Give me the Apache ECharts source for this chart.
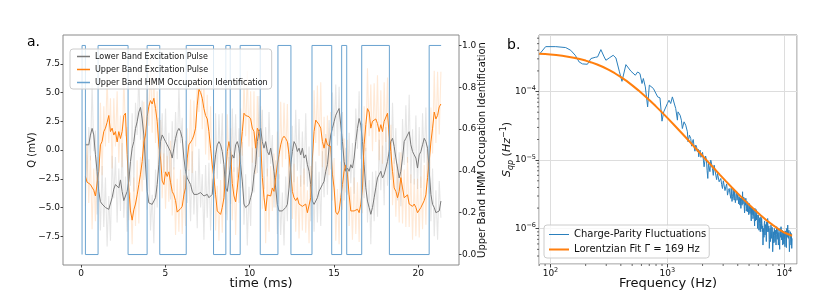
<!DOCTYPE html>
<html><head><meta charset="utf-8">
<script src="https://cdn.jsdelivr.net/npm/echarts@6/dist/echarts.min.js"></script>
<style>html,body{margin:0;padding:0;background:#fff}#c{width:830px;height:298px}</style>
</head><body><div id="c"></div>
<script>
// ---------- Panel a data (sampling grid: t = qTimeStart + i*qTimeStep, ms) ----------
const qTimeStart = 0.26, qTimeStep = 0.099;
const lowerBandSmooth = [
0.45,0.3,0.45,1.3,1.88,1.31,-0.42,-1.85,-3.6,-4.5,
-4.7,-4.87,-5.0,-5.16,-5.16,-5.0,-4.15,-3.4,-3.0,-3.0,
-3.3,-2.6,-3.6,-4.4,-4.3,-3.6,-2.7,-1.0,0.16,0.73,
1.88,2.46,3.3,3.7,2.7,1.3,-1.3,-3.6,-4.6,-4.73,
-4.73,-4.73,-4.15,-3.0,-1.28,0.73,1.31,1.02,0.73,0.45,
0.16,-0.13,-0.7,0.16,1.02,1.6,1.88,1.6,1.02,-0.7,
-1.85,-2.43,-2.72,-3.0,-3.58,-3.86,-3.86,-3.86,-3.86,-3.7,
-3.58,-4.0,-4.15,-3.86,-4.15,-4.3,-3.86,-1.85,-0.42,0.45,
0.73,0.45,-0.13,-1.28,-3.3,-3.6,-2.43,-1.28,-0.42,-0.7,
0.45,0.73,0.16,-1.28,-2.7,-4.7,-5.0,-5.0,-4.73,-4.15,
-3.58,-2.14,-1.28,0.73,1.6,1.88,0.73,0.16,0.73,-0.13,
-0.42,0.16,-0.7,-1.85,-3.3,-4.73,-5.3,-5.45,-5.3,-5.3,
-5.0,-4.73,-3.3,-1.28,-0.13,0.73,0.45,-0.13,0.16,-0.42,
0.16,-0.7,-0.42,-1.28,-1.85,-3.0,-4.44,-4.73,-4.44,-4.15,
-3.58,-3.3,-3.0,-2.72,-1.85,-1.28,0.2,1.31,1.88,2.46,
3.03,3.32,3.61,2.17,0.73,-0.99,-1.85,-1.57,-1.85,-1.28,
-1.57,-0.7,0.73,1.88,2.74,2.17,0.73,-1.28,-3.29,-4.44,
-5.0,-5.59,-5.0,-4.15,-3.29,-2.43,-2.14,-1.85,-2.43,-2.14,
-1.57,-0.99,-0.13,0.73,1.02,0.3,-0.7,-1.57,-2.43,-1.85,
-0.7,0.73,1.02,1.31,1.59,0.45,-0.13,-0.42,-0.7,-1.57,
-0.42,-0.13,0.45,1.02,0.73,0.16,-1.85,-3.86,-4.73,-5.0,
-5.45,-5.59,-5.3,-4.44];
const upperBandSmooth = [
-2.3,-2.8,-2.9,-3.0,-3.1,-3.5,-4.0,-3.9,-1.85,0.45,
0.75,1.6,1.9,2.4,3.0,1.6,1.9,1.3,1.6,0.7,
1.6,1.0,1.6,3.0,3.2,-0.4,-3.3,-5.3,-6.1,-5.2,
-4.7,-3.9,-3.0,-2.1,-1.0,0.7,1.3,2.9,3.8,4.3,
4.0,4.5,3.6,2.5,0.45,-0.7,-2.7,-3.0,-1.9,-2.3,
-1.9,-2.8,-3.6,-3.9,-4.4,-5.4,-5.3,-5.1,-4.9,-3.9,
-3.3,-0.7,0.45,0.6,0.9,1.3,1.9,3.9,5.3,5.0,
4.5,3.6,3.0,2.7,1.6,0.16,-1.3,-2.4,-3.9,-5.3,
-5.45,-5.6,-5.0,-4.15,-2.1,-0.13,0.73,-0.13,-2.9,-4.0,
-4.5,-3.3,-1.9,0.16,1.6,3.2,3.0,3.0,2.9,2.7,
1.9,1.6,0.16,1.9,1.6,0.7,-2.4,-4.15,-5.3,-3.9,
-3.9,-4.0,-3.3,-3.6,-2.4,-1.3,-0.4,0.45,1.0,1.2,
1.0,0.73,-0.4,-1.85,-3.6,-4.15,-4.4,-4.15,-4.7,-4.8,
-4.9,-5.0,-4.7,-5.45,-5.45,-4.15,-0.7,1.6,2.6,2.5,
2.2,1.9,0.73,0.16,1.0,0.45,0.6,0.3,-2.1,-3.3,
-5.4,-5.6,-5.3,-4.15,-3.0,-1.85,-1.3,-2.1,-3.9,-5.3,
-5.15,-5.3,-5.3,-5.15,-5.45,-4.7,-3.3,0.45,2.2,3.6,
3.3,1.9,2.5,2.6,2.7,2.3,1.6,2.2,1.6,2.5,
2.6,3.2,1.3,-0.13,-1.85,-3.3,-3.6,-4.15,-3.6,-2.4,
-3.3,-4.15,-4.3,-3.9,-4.7,-4.7,-4.9,-4.7,-5.0,-5.45,
-5.3,-5.0,-4.9,-4.4,-3.9,-2.4,-1.0,0.7,1.9,3.3,
2.7,3.0,3.75,4.0];
const lowerBandRaw = [
3.3,-2.8,2.0,-0.9,5.8,-0.1,1.7,-5.6,-2.7,-7.0,
-1.4,-6.7,-2.4,-8.4,-4.0,-7.9,-0.5,-4.2,-0.6,-6.3,
-1.6,-5.3,0.6,-5.9,-2.3,-7.1,-1.6,-3.1,3.2,-3.6,
4.1,1.3,6.7,0.9,4.3,-2.6,1.4,-5.2,-0.8,-7.0,
-3.9,-8.1,-1.7,-5.0,2.8,-0.4,3.2,-2.0,3.6,-2.2,
1.5,-4.3,2.5,-1.7,3.3,-0.8,5.6,0.6,2.8,-4.3,
0.8,-4.6,-1.7,-6.2,-0.1,-5.6,-1.8,-6.8,0.1,-5.0,
-2.1,-7.8,-1.3,-5.9,-1.1,-7.0,-2.5,-4.2,3.2,-2.5,
3.1,-1.2,3.2,-4.3,-1.1,-6.1,-0.6,-4.7,3.6,-1.9,
3.1,-2.4,1.9,-3.3,0.7,-6.5,-2.1,-8.3,-3.2,-6.6,
0.2,-3.7,1.0,-2.0,4.7,0.0,3.5,-3.4,2.0,-2.3,
3.3,-1.2,1.3,-5.0,-0.9,-7.3,-2.1,-7.4,-3.7,-8.3,
-2.3,-6.2,0.6,-3.7,2.1,-2.8,3.5,-1.8,2.7,-3.2,
1.6,-3.0,3.2,-3.2,0.3,-6.2,-1.8,-7.1,-1.0,-6.3,
-1.9,-6.6,-0.1,-4.1,1.4,-3.9,2.6,-1.7,5.0,1.2,
5.7,0.4,5.5,0.0,3.3,-4.4,0.2,-3.9,1.5,-2.9,
0.6,-3.8,3.6,0.1,5.1,-0.8,2.3,-4.2,0.2,-6.3,
-2.6,-8.2,-1.9,-6.2,-1.8,-5.8,0.9,-3.5,0.4,-4.8,
2.0,-3.1,2.2,-2.6,4.1,-1.2,1.9,-4.4,-0.2,-4.9,
2.7,-1.3,3.9,-1.1,4.8,-2.9,1.8,-3.0,3.0,-3.4,
2.0,-3.3,3.2,-1.1,3.7,-2.7,0.4,-6.2,-1.6,-7.5,
-3.5,-7.8,-2.7,-5.9];
const upperBandRaw = [
-4.9,0.6,-4.6,-0.5,-6.9,-1.6,-6.2,-0.6,-3.3,4.1,
-2.2,3.8,0.3,6.5,0.6,4.5,-1.6,4.5,0.3,5.1,
-1.1,3.0,-1.5,6.7,1.2,2.0,-6.1,-3.7,-8.2,-2.4,
-6.6,-0.9,-6.4,-0.6,-3.6,4.2,-0.9,6.0,2.1,8.2,
1.5,6.8,0.6,5.1,-2.0,2.6,-4.2,-0.3,-5.1,-0.5,
-4.5,0.8,-5.7,-1.5,-7.4,-2.5,-7.1,-1.7,-7.3,-2.2,
-6.6,1.9,-1.8,4.4,-2.0,4.3,0.3,6.4,3.3,8.3,
1.8,6.4,-0.4,4.8,-0.9,3.8,-3.3,0.0,-7.0,-3.1,
-7.9,-2.6,-7.2,-1.5,-5.6,3.1,-1.7,1.9,-6.1,-1.5,
-7.4,-1.5,-4.6,3.6,-0.5,6.2,1.2,6.9,0.3,5.1,
-1.1,5.1,-2.1,4.7,-0.6,3.8,-5.1,-2.3,-8.1,-1.6,
-7.1,-1.4,-5.3,-0.3,-5.0,1.6,-2.5,4.2,-1.5,4.1,
-0.8,4.0,-3.3,0.4,-6.0,-1.2,-7.1,-2.3,-7.7,-2.2,
-7.0,-1.6,-7.2,-3.5,-8.1,-1.4,-3.1,5.2,0.6,5.6,
-0.5,5.9,-1.5,2.9,-2.1,3.0,-2.2,3.3,-4.4,-0.7,
-7.9,-3.4,-8.2,-1.0,-5.2,1.0,-3.7,0.9,-6.6,-3.2,
-7.8,-2.4,-7.3,-2.8,-8.0,-1.6,-5.5,3.8,-0.1,7.1,
1.2,5.7,-0.1,5.8,0.7,6.5,-0.9,5.2,-1.2,5.9,
0.7,6.3,-1.3,2.2,-4.8,-0.7,-5.8,-1.2,-6.3,-0.2,
-6.4,-1.7,-6.7,-0.6,-6.7,-2.1,-7.8,-2.5,-7.5,-2.5,
-7.6,-2.3,-6.9,-1.3,-6.5,0.0,-3.8,3.7,-0.3,6.9,
0.6,6.8,1.35,6.8];
const hmmTimes  = [0.06,0.06,0.26,1.01,2.79,3.92,4.67,6.24,7.86,8.59,8.85,9.44,10.63,11.68,12.45,13.70,14.87,15.46,15.76,16.65,18.29,20.65,21.36];
const hmmStates = [0,1,0,1,0,1,0,1,0,1,0,1,0,1,0,1,0,1,0,1,0,1,1];

// ---------- Panel b data ----------
const psdFreq = [80,91,111,135,149,163,176,188,207,222,242,253,270,288,298,318,344,363,388,409,
422,442,457,488,504,532,557,583,607,623,648,678,701,724,759,789,826,865,900,931,
968,1000,1033,1068,1104,1141,1179,1219,1233,1285,1318,1344,1389,1436,1484,1503,1545,1585,1611,1638,
1665,1693,1721,1750,1779,1808,1832,1856,1880,1905,1936,1968,2000,2035,2062,2089,2124,2159,2188,2218,
2246,2275,2313,2351,2390,2430,2471,2512,2554,2596,2640,2683,2728,2773,2820,2866,2913,2961,3011,3061,
3112,3163,3216,3269,3324,3379,3435,
3492,3515,3538,3573,3609,3633,3657,3693,3730,3755,3780,3817,3855,3880,3906,3945,3984,4010,4037,4077,
4117,4144,4172,4213,4255,4283,4311,4354,4398,4427,4456,4500,4545,4575,4606,4651,4697,4728,4759,4807,
4855,4887,4919,4968,5017,5050,5084,5134,5185,5219,5254,5306,5359,5394,5430,5484,5539,5575,5612,5668,
5724,5762,5800,5858,5916,5955,5995,6034,6074,6114,6174,6235,6277,6319,6361,6403,6445,6488,6531,6574,
6617,6661,6705,6749,6794,6839,6907,6976,7022,7068,7138,7209,7257,7305,7378,7451,7500,7550,7625,7700,
7751,7802,7880,7958,8011,8064,8145,8225,8280,8334,8417,8500,8556,8613,8699,8785,8843,8902,8990,9079,
9140,9200,9291,9383,9445,9507,9602,9697,9761,9826,9913,10000,10066,10133,10245,10358,10426,10495,10600,10705,
10776,10847,10955,11063,11136,11210,11284,11359,11434,11510,11586,11663];
const psdValue = [3.46e-4,4.52e-4,4.52e-4,4.38e-4,4.0e-4,3.38e-4,2.70e-4,2.53e-4,2.50e-4,3.03e-4,
3.16e-4,3.20e-4,4.09e-4,3.20e-4,2.86e-4,3.09e-4,3.38e-4,3.09e-4,1.98e-4,1.41e-4,
1.46e-4,2.47e-4,2.61e-4,1.98e-4,1.89e-4,1.73e-4,1.93e-4,1.83e-4,1.31e-4,1.55e-4,
1.17e-4,5.98e-5,1.24e-4,1.31e-4,1.11e-4,1.08e-4,8.36e-5,8.09e-5,3.70e-5,5.06e-5,
5.34e-5,6.69e-5,7.48e-5,6.69e-5,8.36e-5,7.91e-5,5.65e-5,3.83e-5,5.06e-5,4.52e-5,
3.83e-5,2.89e-5,3.62e-5,3.23e-5,2.59e-5,1.85e-5,2.31e-5,2.07e-5,1.6e-5,1.85e-5,
2.0e-5,1.56e-5,1.35e-5,1.66e-5,1.55e-5,1.32e-5,1.45e-5,1.12e-5,1.3e-5,1.40e-5,
1.1e-5,1.18e-5,1.3e-5,1.0e-5,8.0e-6,9.46e-6,1.15e-5,1.0e-5,7.0e-6,5.41e-6,
9.0e-6,8.46e-6,6.8e-6,1.0e-5,8.8e-6,7.57e-6,6.0e-6,8.46e-6,7.2e-6,6.05e-6,
5.2e-6,6.40e-6,6.8e-6,4.84e-6,4.6e-6,5.41e-6,4.4e-6,3.86e-6,5.0e-6,4.84e-6,
3.6e-6,4.09e-6,4.5e-6,3.09e-6,3.6e-6,3.86e-6,3.2e-6,
2.77e-6,3.9e-6,3.65e-6,2.5e-6,2.92e-6,3.3e-6,3.86e-6,2.9e-6,2.61e-6,3.7e-6,
3.46e-6,2.4e-6,2.77e-6,3.2e-6,3.53e-6,2.6e-6,2.47e-6,3.3e-6,3.09e-6,2.3e-6,
2.92e-6,2.6e-6,2.21e-6,2.8e-6,1.98e-6,2.5e-6,2.92e-6,2.2e-6,3.46e-6,2.3e-6,
2.47e-6,2.9e-6,2.09e-6,1.7e-6,2.77e-6,2.2e-6,2.77e-6,1.8e-6,1.98e-6,2.5e-6,
1.77e-6,2.4e-6,2.47e-6,1.6e-6,2.34e-6,1.9e-6,1.67e-6,2.2e-6,1.58e-6,1.3e-6,
2.09e-6,1.6e-6,1.98e-6,1.4e-6,1.50e-6,1.9e-6,1.41e-6,1.1e-6,1.98e-6,1.3e-6,
1.67e-6,1.9e-6,1.34e-6,1.6e-6,1.01e-6,1.25e-6,1.58e-6,1.41e-6,9.5e-7,1.20e-6,
1.45e-6,9.04e-7,1.2e-6,1.50e-6,1.0e-6,1.41e-6,1.2e-6,9.04e-7,1.1e-6,5.78e-7,
8.0e-7,1.01e-6,7.5e-7,1.20e-6,1.3e-6,8.09e-7,1.15e-6,9.04e-7,6.5e-7,1.26e-6,
9.0e-7,1.41e-6,1.0e-6,9.04e-7,1.1e-6,5.17e-7,7.0e-7,1.01e-6,6.5e-7,1.13e-6,
9.0e-7,7.23e-7,1.05e-6,4.62e-7,6.0e-7,9.04e-7,6.2e-7,1.01e-6,8.0e-7,6.47e-7,
9.5e-7,5.78e-7,8.2e-7,1.07e-6,7.0e-7,9.04e-7,1.0e-6,5.78e-7,8.8e-7,6.47e-7,
5.0e-7,1.01e-6,7.5e-7,1.07e-6,8.5e-7,6.84e-7,9.5e-7,5.78e-7,7.8e-7,9.04e-7,
6.0e-7,9.04e-7,7.0e-7,5.47e-7,9.3e-7,6.84e-7,5.3e-7,1.01e-6,7.5e-7,1.13e-6,
8.0e-7,7.23e-7,9.5e-7,4.62e-7,6.0e-7,7.23e-7,9.04e-7,7.0e-7,5.78e-7,8.5e-7,
5.17e-7,7.23e-7];
const fitFreq  = [80,90,100,112,126,141,158,178,200,224,251,282,316,355,398,447,501,562,631,708,794,891,
1000,1122,1259,1413,1585,1778,1995,2239,2512,2818,3162,3548,3981,4467,5012,5623,6310,7079,7943,8913,10000,11220,11660];
const fitValue = [3.57e-4,3.52e-4,3.47e-4,3.41e-4,3.32e-4,3.23e-4,3.12e-4,2.98e-4,2.83e-4,2.66e-4,2.48e-4,2.28e-4,2.07e-4,1.85e-4,1.64e-4,1.43e-4,1.23e-4,1.05e-4,8.86e-5,7.41e-5,6.14e-5,5.05e-5,
4.13e-5,3.37e-5,2.73e-5,2.21e-5,1.79e-5,1.44e-5,1.16e-5,9.36e-6,7.55e-6,6.11e-6,4.95e-6,4.02e-6,3.29e-6,2.70e-6,2.23e-6,1.86e-6,1.56e-6,1.32e-6,1.14e-6,9.9e-7,8.8e-7,8.1e-7,7.9e-7];
const minorXTicks = [80,90,200,300,400,500,600,700,800,900,2000,3000,4000,5000,6000,7000,8000,9000];
const minorYTicks = [4e-7,5e-7,6e-7,7e-7,8e-7,9e-7,2e-6,3e-6,4e-6,5e-6,6e-6,7e-6,8e-6,9e-6,
2e-5,3e-5,4e-5,5e-5,6e-5,7e-5,8e-5,9e-5,2e-4,3e-4,4e-4,5e-4,6e-4];

const seriesNames = ['Lower Band Excitation Pulse','Upper Band Excitation Pulse','Upper Band HMM Occupation Identification'];
const psdNames = ['Charge-Parity Fluctuations','Lorentzian Fit \u0393 = 169 Hz'];

// ---------- build ----------
const FONT = 'DejaVu Sans';
const MINUS = '\u2212';
const timeAt = i => +(qTimeStart + i * qTimeStep).toFixed(4);
const withTime = arr => arr.map((v, i) => [timeAt(i), v]);
const zip = (a, b) => a.map((v, i) => [v, b[i]]);
const fixLabel = v => v.toFixed(1).replace('-', MINUS);
const powLabel = v => { const e = Math.round(Math.log10(v)); return '10{sup|' + (e < 0 ? MINUS + (-e) : e) + '}'; };
const TICKC = '#444', FRAMEC = '#8a8a8a', TXT = '#111';
// legend line icons (thin bar inside an invisible full-size box)
const lineIcon = (w, h, t) => 'path://M0,0h0.01v0.01h-0.01z M0,' + ((h - t) / 2) + 'h' + w + 'v' + t + 'h-' + w + 'z M' + (w - 0.01) + ',' + (h - 0.01) + 'h0.01v0.01h-0.01z';

const chart = echarts.init(document.getElementById('c'), null, {renderer: 'canvas'});
chart.setOption({
  animation: false,
  textStyle: {fontFamily: FONT},
  grid: [
    {left: 63, top: 35, width: 396, height: 230, show: true, borderColor: FRAMEC, borderWidth: 1, outerBoundsMode: 'none', containLabel: false},
    {left: 539, top: 35, width: 258, height: 229, show: true, borderColor: FRAMEC, borderWidth: 1, outerBoundsMode: 'none', containLabel: false}
  ],
  xAxis: [
    {type: 'value', gridIndex: 0, min: -1.07, max: 22.42, splitNumber: 5,
     axisLine: {show: false, onZero: false}, splitLine: {show: false},
     axisTick: {show: true, length: 2.5, lineStyle: {color: TICKC}},
     axisLabel: {fontSize: 9, color: TXT, margin: 4, showMinLabel: false, showMaxLabel: false, fontFamily: FONT},
     name: 'time (ms)', nameLocation: 'middle', nameGap: 12, nameMoveOverlap: false,
     nameTextStyle: {fontSize: 13, color: TXT, fontFamily: FONT}},
    {type: 'log', gridIndex: 1, logBase: 10, min: 79.8, max: 12850,
     axisLine: {show: false, onZero: false},
     splitLine: {show: true, lineStyle: {color: '#dddddd', width: 1}},
     axisTick: {show: true, length: 3.5, lineStyle: {color: TICKC}},
     axisLabel: {fontSize: 9, color: TXT, margin: 3, showMinLabel: false, showMaxLabel: false, fontFamily: FONT,
       formatter: powLabel, rich: {sup: {fontSize: 6.5, padding: [0, 0, 6, 0], color: TXT, fontFamily: FONT}}},
     name: 'Frequency (Hz)', nameLocation: 'middle', nameGap: 13, nameMoveOverlap: false,
     nameTextStyle: {fontSize: 13, color: TXT, fontFamily: FONT}}
  ],
  yAxis: [
    {type: 'value', gridIndex: 0, min: -10, max: 10, interval: 2.5,
     axisLine: {show: false, onZero: false}, splitLine: {show: false},
     axisTick: {show: true, length: 2.5, lineStyle: {color: TICKC}},
     axisLabel: {fontSize: 9, color: TXT, margin: 3, showMinLabel: false, showMaxLabel: false, formatter: fixLabel, fontFamily: FONT},
     name: 'Q (mV)', nameLocation: 'middle', nameGap: 26, nameMoveOverlap: false,
     nameTextStyle: {fontSize: 10, color: TXT, fontFamily: FONT}},
    {type: 'value', gridIndex: 0, position: 'right', min: -0.05, max: 1.05, splitNumber: 5,
     axisLine: {show: false, onZero: false}, splitLine: {show: false},
     axisTick: {show: true, length: 2.5, lineStyle: {color: TICKC}},
     axisLabel: {fontSize: 9, color: TXT, margin: 3, showMinLabel: false, showMaxLabel: false, formatter: fixLabel, fontFamily: FONT},
     name: 'Upper Band HMM Occupation Identification', nameLocation: 'middle', nameGap: 18, nameMoveOverlap: false,
     nameTextStyle: {fontSize: 10, color: TXT, fontFamily: FONT}},
    {type: 'log', gridIndex: 1, logBase: 10, min: 3.06e-7, max: 6.68e-4,
     axisLine: {show: false, onZero: false},
     splitLine: {show: true, lineStyle: {color: '#dddddd', width: 1}},
     axisTick: {show: true, length: 3.5, lineStyle: {color: TICKC}},
     axisLabel: {fontSize: 9, color: TXT, margin: 3, showMinLabel: false, showMaxLabel: false, fontFamily: FONT,
       formatter: powLabel, rich: {sup: {fontSize: 6.5, padding: [0, 0, 6, 0], color: TXT, fontFamily: FONT}}},
     name: '{it|S}{sub|qp} ({it|Hz}{sup|' + MINUS + '1})', nameLocation: 'middle', nameGap: 24, nameMoveOverlap: false,
     nameTextStyle: {fontSize: 11, color: TXT, fontFamily: FONT,
       rich: {it: {fontStyle: 'italic', fontSize: 11, color: TXT, fontFamily: FONT},
              sub: {fontStyle: 'italic', fontSize: 8, padding: [7, 0, 0, 0], color: TXT, fontFamily: FONT},
              sup: {fontSize: 8, padding: [0, 0, 7, 0], color: TXT, fontFamily: FONT}}}}
  ],
  legend: [
    {left: 70, top: 49, orient: 'vertical', itemWidth: 13, itemHeight: 10, itemGap: 0,
     padding: [1, 4, 0, 7], backgroundColor: 'rgba(255,255,255,0.8)', borderColor: '#cccccc', borderWidth: 1, borderRadius: 3,
     selectedMode: false, itemStyle: {borderWidth: 0},
     textStyle: {fontSize: 8, lineHeight: 13, color: TXT, fontFamily: FONT},
     data: seriesNames.map(n => ({name: n, icon: lineIcon(13, 10, 1.3)}))},
    {left: 544, top: 225, orient: 'vertical', itemWidth: 20, itemHeight: 12, itemGap: 0,
     padding: [2, 3, 1, 5], backgroundColor: 'rgba(255,255,255,0.8)', borderColor: '#cccccc', borderWidth: 1, borderRadius: 3,
     selectedMode: false, itemStyle: {borderWidth: 0},
     textStyle: {fontSize: 10, lineHeight: 15, color: TXT, fontFamily: FONT},
     data: [{name: psdNames[0], icon: lineIcon(20, 12, 1.1)}, {name: psdNames[1], icon: lineIcon(20, 12, 2)}]}
  ],
  graphic: [
    {type: 'text', left: 27, top: 35, style: {text: 'a.', font: '14px "DejaVu Sans"', fill: '#000'}},
    {type: 'text', left: 507, top: 38, style: {text: 'b.', font: '14px "DejaVu Sans"', fill: '#000'}}
  ],
  series: [
    {type: 'line', name: 'lowerRaw', xAxisIndex: 0, yAxisIndex: 0, data: withTime(lowerBandRaw), symbol: 'none', silent: true,
     itemStyle: {color: '#808080'}, lineStyle: {color: '#808080', width: 1.1, opacity: 0.2}, z: 1},
    {type: 'line', name: 'upperRaw', xAxisIndex: 0, yAxisIndex: 0, data: withTime(upperBandRaw), symbol: 'none', silent: true,
     itemStyle: {color: '#ff7f0e'}, lineStyle: {color: '#ff7f0e', width: 1.1, opacity: 0.17}, z: 1},
    {type: 'line', name: seriesNames[0], xAxisIndex: 0, yAxisIndex: 0, data: withTime(lowerBandSmooth), symbol: 'none', silent: true,
     itemStyle: {color: '#7a7a7a'}, lineStyle: {color: '#7a7a7a', width: 1}, z: 2},
    {type: 'line', name: seriesNames[1], xAxisIndex: 0, yAxisIndex: 0, data: withTime(upperBandSmooth), symbol: 'none', silent: true,
     itemStyle: {color: '#ff7f0e'}, lineStyle: {color: '#ff7f0e', width: 1}, z: 2},
    {type: 'line', name: seriesNames[2], xAxisIndex: 0, yAxisIndex: 1, step: 'end', data: zip(hmmTimes, hmmStates), symbol: 'none', silent: true,
     itemStyle: {color: '#6aa3d0'}, lineStyle: {color: '#6aa3d0', width: 1}, z: 3},
    {type: 'line', name: psdNames[0], xAxisIndex: 1, yAxisIndex: 2, data: zip(psdFreq, psdValue), symbol: 'none', silent: true,
     itemStyle: {color: '#2a7fbc'}, lineStyle: {color: '#2a7fbc', width: 1}, z: 2},
    {type: 'line', name: psdNames[1], xAxisIndex: 1, yAxisIndex: 2, data: zip(fitFreq, fitValue), symbol: 'none', silent: true,
     itemStyle: {color: '#ff7f0e'}, lineStyle: {color: '#ff7f0e', width: 2}, z: 3},
    {type: 'custom', xAxisIndex: 1, yAxisIndex: 2, silent: true, clip: false, z: 5,
     data: minorXTicks.map(v => [v, 1e-5]), encode: {x: 0, y: 1},
     renderItem: (params, api) => {
       const cs = params.coordSys; const p = api.coord([api.value(0), 1e-5]);
       return {type: 'line', shape: {x1: p[0], y1: cs.y + cs.height, x2: p[0], y2: cs.y + cs.height + 2}, style: {stroke: TICKC, lineWidth: 0.8}};
     }},
    {type: 'custom', xAxisIndex: 1, yAxisIndex: 2, silent: true, clip: false, z: 5,
     data: minorYTicks.map(v => [1000, v]), encode: {x: 0, y: 1},
     renderItem: (params, api) => {
       const cs = params.coordSys; const p = api.coord([1000, api.value(1)]);
       return {type: 'line', shape: {x1: cs.x - 2, y1: p[1], x2: cs.x, y2: p[1]}, style: {stroke: TICKC, lineWidth: 0.8}};
     }}
  ]
});
</script>
</body></html>
